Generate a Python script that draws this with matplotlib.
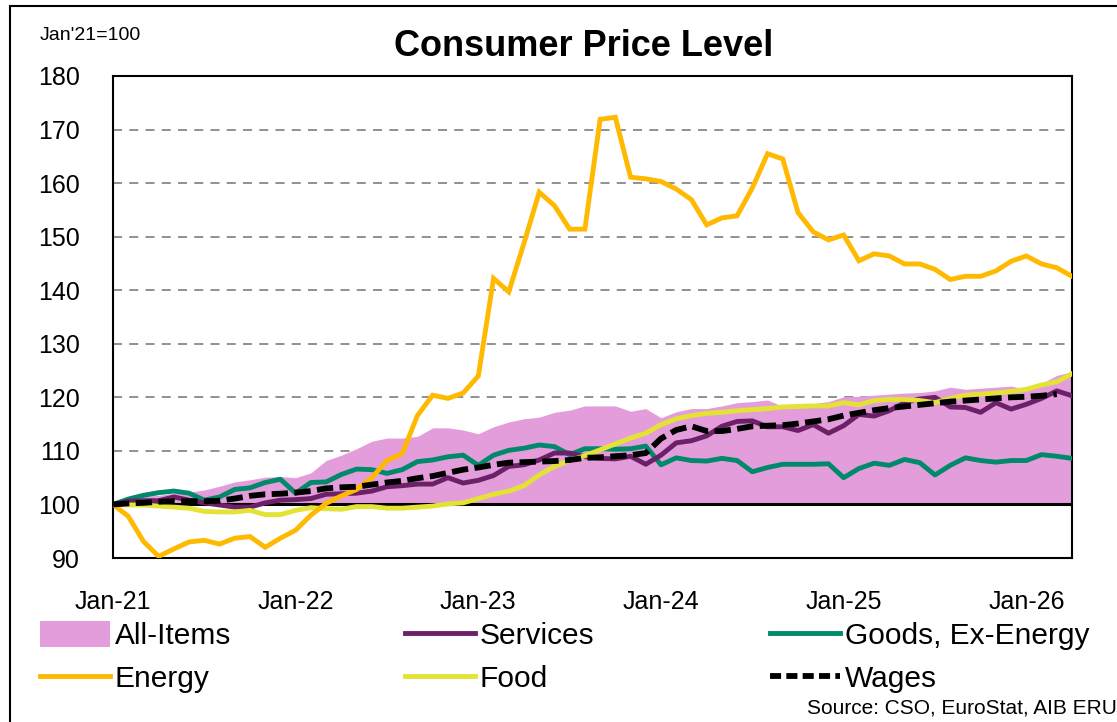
import matplotlib
matplotlib.use("Agg")
import matplotlib.pyplot as plt
from matplotlib.patches import Patch, Rectangle
from matplotlib.lines import Line2D
import numpy as np

plt.rcParams["font.family"] = ["Liberation Sans", "DejaVu Sans"]

# monthly index, Jan-21 = 0
tick_months = [0, 12, 24, 36, 48, 60]
tick_labels = ["Jan-21", "Jan-22", "Jan-23", "Jan-24", "Jan-25", "Jan-26"]

all_items = [100, 101.2, 101.5, 101.7, 102.1, 102.3, 102.7, 103.4, 104.2, 104.6,
             105.1, 105.2, 105.0, 105.9, 108.2, 109.2, 110.4, 111.8, 112.4, 112.4,
             112.7, 114.3, 114.3, 113.9, 113.2, 114.5, 115.4, 116.0, 116.3, 117.2,
             117.6, 118.4, 118.4, 118.4, 117.4, 117.9, 116.2, 117.3, 117.9, 117.9,
             118.4, 119.0, 119.2, 119.5, 118.3, 118.4, 118.8, 119.2, 120.1, 120.2,
             120.4, 120.6, 120.8, 120.9, 121.2, 121.9, 121.5, 121.7, 121.9, 122.1,
             121.5, 122.6, 124.1, 124.8]

services = [100, 100.6, 100.7, 100.7, 101.4, 100.8, 100.3, 99.9, 99.5, 99.5,
            100.3, 100.8, 100.9, 101.1, 101.9, 102.0, 102.1, 102.5, 103.3, 103.5,
            103.8, 103.8, 105.0, 104.0, 104.5, 105.4, 107.1, 107.4, 108.3, 109.6,
            109.6, 108.9, 108.6, 108.5, 109.0, 107.5, 109.2, 111.5, 111.9, 112.8,
            114.6, 115.5, 115.6, 114.5, 114.5, 113.8, 114.9, 113.3, 114.7, 116.8,
            116.5, 117.5, 119.0, 119.7, 120.0, 118.2, 118.1, 117.2, 119.0, 117.8,
            118.7, 119.8, 121.2, 120.3]

goods_ex_energy = [100, 101.0, 101.7, 102.2, 102.5, 102.1, 100.8, 101.4, 102.8, 103.1,
                   104.1, 104.7, 102.1, 104.1, 104.2, 105.6, 106.6, 106.5, 105.8, 106.5,
                   108.0, 108.3, 108.9, 109.2, 107.3, 109.2, 110.1, 110.5, 111.1, 110.8,
                   109.3, 110.4, 110.4, 110.3, 110.4, 110.9, 107.4, 108.7, 108.2, 108.1,
                   108.6, 108.2, 106.1, 106.9, 107.5, 107.5, 107.5, 107.6, 105.0, 106.7,
                   107.7, 107.3, 108.4, 107.8, 105.5, 107.3, 108.7, 108.2, 107.9, 108.2,
                   108.2, 109.3, 109.0, 108.6]

energy = [100, 97.8, 93.1, 90.3, 91.7, 93.0, 93.3, 92.6, 93.7, 94.0,
          92.0, 93.7, 95.2, 98.0, 100.2, 101.6, 102.8, 105.0, 108.2, 109.5,
          116.6, 120.4, 119.8, 120.8, 124.0, 142.2, 139.7, 148.8, 158.3, 155.8,
          151.4, 151.4, 171.9, 172.3, 161.1, 160.8, 160.3, 158.9, 156.9, 152.2,
          153.5, 153.9, 159.1, 165.5, 164.5, 154.5, 150.9, 149.4, 150.3, 145.5,
          146.8, 146.4, 144.9, 144.9, 143.9, 142.0, 142.6, 142.6, 143.6, 145.4,
          146.4, 144.9, 144.2, 142.6]

food = [100, 99.9, 99.9, 99.7, 99.5, 99.3, 98.7, 98.6, 98.6, 98.9,
        98.1, 98.1, 98.9, 99.4, 99.2, 99.1, 99.6, 99.6, 99.3, 99.3,
        99.5, 99.7, 100.1, 100.3, 101.1, 101.9, 102.5, 103.5, 105.5, 107.1,
        108.2, 109.1, 110.2, 111.3, 112.4, 113.3, 114.9, 116.0, 116.6, 117.0,
        117.2, 117.5, 117.7, 117.9, 118.2, 118.3, 118.4, 118.4, 119.0, 118.6,
        119.4, 119.6, 119.6, 119.4, 119.0, 119.8, 120.4, 120.6, 120.8, 121.1,
        121.5, 122.3, 122.9, 124.4]

wages = [100, 100.2, 100.3, 100.5, 100.6, 100.6, 100.6, 100.7, 101.1, 101.6,
         101.9, 102.0, 102.2, 102.5, 103.0, 103.2, 103.3, 103.7, 104.1, 104.4,
         104.9, 105.3, 105.9, 106.5, 106.9, 107.4, 107.8, 107.9, 108.0, 108.1,
         108.3, 108.7, 108.8, 109.0, 109.2, 109.6, 112.3, 113.9, 114.6, 113.7,
         113.7, 114.1, 114.6, 114.7, 114.8, 115.1, 115.5, 115.9, 116.6, 117.1,
         117.6, 118.0, 118.3, 118.6, 118.9, 119.2, 119.4, 119.6, 119.8, 120.0,
         120.1, 120.3, 120.6]

PINK = "#e39ddb"
PURPLE = "#6b2067"
TEAL = "#00896a"
GOLD = "#ffb900"
LIME = "#e3e336"

W, H = 1117, 722
fig = plt.figure(figsize=(W / 100, H / 100), dpi=100, facecolor="white")
ax = fig.add_axes([113 / W, 1 - 558 / H, (1072 - 113) / W, (558 - 76) / H])

x = np.arange(len(all_items))
ax.fill_between(x, 100, all_items, color=PINK, linewidth=0, zorder=1)
ax.axhline(100, color="black", lw=2.2, zorder=2)
for yv in range(110, 180, 10):
    ax.axhline(yv, color="#888888", lw=1.3, ls=(0, (5, 4)), zorder=0.5)

lw = 3.5
ax.plot(x, goods_ex_energy, color=TEAL, lw=lw, zorder=3)
ax.plot(x, services, color=PURPLE, lw=lw, zorder=3)
ax.plot(x, food, color=LIME, lw=lw, zorder=4)
ax.plot(x, energy, color=GOLD, lw=lw, zorder=4, solid_joinstyle="miter")
ax.plot(np.arange(len(wages)), wages, color="black", lw=4.2, zorder=5,
        dashes=(2.8, 1.1))

ax.set_xlim(0, len(all_items) - 1)
ax.set_ylim(90, 180)
ax.set_yticks(range(90, 181, 10))
ax.set_xticks(tick_months)
ax.set_xticklabels(tick_labels)
ax.tick_params(axis="both", length=0, labelsize=18, colors="black")
ax.tick_params(axis="y", pad=24)
ax.tick_params(axis="x", pad=23)
for s in ax.spines.values():
    s.set_linewidth(1.5)
    s.set_color("black")

fig.text(584 / W, 1 - 47 / H, "Consumer Price Level", ha="center", va="center",
         fontsize=26, fontweight="bold")
fig.text(40 / W, 1 - 35 / H, "Jan'21=100", ha="left", va="center", fontsize=14)
fig.text(1117 / W, 1 - 708 / H, "Source: CSO, EuroStat, AIB ERU", ha="right",
         va="center", fontsize=15)

# outer frame (cut off at right/bottom like the source)
fig.patches.append(Rectangle((10 / W, -0.05), 1.2, 1 - 6 / H + 0.05,
                             transform=fig.transFigure, fill=False,
                             edgecolor="black", lw=1.5))

cols = [
    ([Patch(facecolor=PINK, edgecolor="none"),
      Line2D([], [], color=GOLD, lw=lw)], ["All-Items", "Energy"], 40),
    ([Line2D([], [], color=PURPLE, lw=lw),
      Line2D([], [], color=LIME, lw=lw)], ["Services", "Food"], 405),
    ([Line2D([], [], color=TEAL, lw=lw),
      Line2D([], [], color="black", lw=4.2, dashes=(1.9, 0.9))],
     ["Goods, Ex-Energy", "Wages"], 770),
]
for handles, labels, xpx in cols:
    fig.legend(handles, labels, loc="upper left",
               bbox_to_anchor=(xpx / W, 1 - 621 / H), frameon=False,
               fontsize=21.5, handlelength=2.35, handleheight=0.95,
               handletextpad=0.16, labelspacing=0.47, borderpad=0,
               borderaxespad=0)

fig.savefig("out.png", dpi=100, facecolor="white")
